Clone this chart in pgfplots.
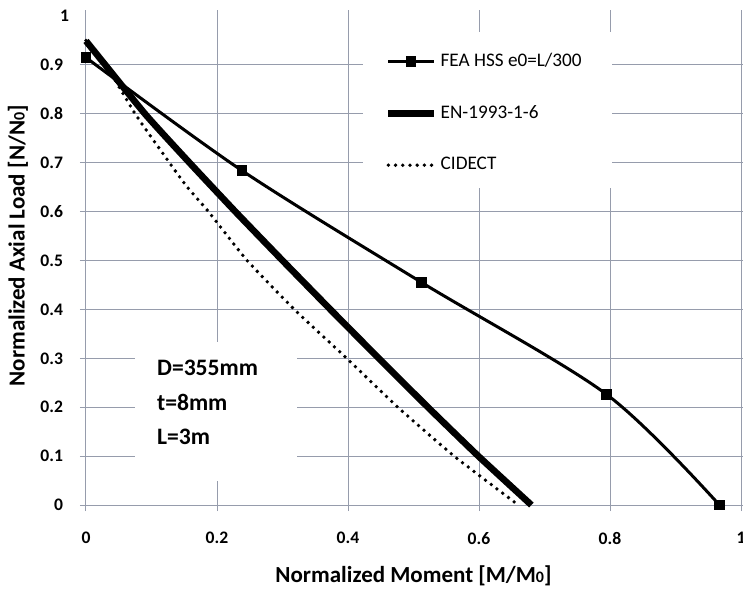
\documentclass[border=0pt]{standalone}
\usepackage{fontspec}
\setmainfont{Carlito}
\usepackage{pgfplots}
\pgfplotsset{compat=1.18}
\definecolor{gridc}{RGB}{150,156,172}
\begin{document}
\begin{tikzpicture}
\begin{axis}[
  scale only axis, width=327.5pt, height=244.5pt,
  xmin=0, xmax=1, ymin=0, ymax=1,
  axis line style={draw=none},
  xtick={0,0.2,0.4,0.6,0.8,1},
  ytick={0,0.1,0.2,0.3,0.4,0.5,0.6,0.7,0.8,0.9},
  extra y ticks={1},
  extra y tick style={grid=none, major tick length=0pt},
  grid=major, grid style={gridc, line width=0.5pt},
  tick align=outside, major tick length=3pt, tick style={gridc, line width=0.5pt},
  ticklabel style={font=\bfseries\fontsize{8.8}{10}\selectfont},
  /pgf/number format/assume math mode=true,
  /pgf/number format/fixed,
  xticklabel style={yshift=-7pt},
  yticklabel style={xshift=-5pt},
  xlabel={Normalized Moment [M/M{\fontsize{8}{9}\selectfont 0}]},
  ylabel={Normalized Axial Load [N/N{\fontsize{8}{9}\selectfont 0}]},
  label style={font=\bfseries\fontsize{11.5}{13}\selectfont},
  xlabel style={at={(axis description cs:0.5,0)}, anchor=center, yshift=-35.5pt},
  ylabel style={at={(axis description cs:0,0.53)}, anchor=center, yshift=34pt},
  clip=false,
  legend style={at={(axis cs:0.456,0.933)}, anchor=north west, draw=none, fill=none,
    inner sep=0pt, row sep=14pt, font=\fontsize{9.6}{11}\selectfont,
    /tikz/every even column/.append style={column sep=1pt}},
  legend cell align=left,
  legend image code/.code={\draw[mark repeat=2,mark phase=2,#1] plot coordinates {(0pt,0pt)(11.25pt,0pt)(22.5pt,0pt)};},
]
\fill[white] (axis cs:0.075,0.05) rectangle (axis cs:0.322,0.333);
\fill[white] (axis cs:0.423,0.648) rectangle (axis cs:0.803,0.967);

\addplot[black, line width=1.5pt, smooth, mark=square*, mark size=1.9pt, mark options={solid}]
  coordinates {(0,0.915) (0.238,0.684) (0.5125,0.455) (0.795,0.226) (0.967,0)};
\addlegendentry{FEA HSS e0=L/300}

\addplot[black, line width=3.3pt, smooth, tension=0.3]
  coordinates {(0,0.949) (0.090,0.8) (0.158,0.7) (0.228,0.6) (0.300,0.5) (0.373,0.4) (0.447,0.3) (0.522,0.2) (0.599,0.1) (0.680,0)};
\addlegendentry{EN-1993-1-6}

\addplot[black, line width=1.9pt, line cap=round, dash pattern=on 0pt off 3.6pt, smooth, tension=0.3]
  coordinates {(0,0.95) (0.035,0.89) (0.075,0.8) (0.121,0.712) (0.154,0.651) (0.187,0.6) (0.246,0.5) (0.318,0.4) (0.398,0.3) (0.476,0.2) (0.562,0.1) (0.660,0)};
\addlegendentry{CIDECT}

\node[anchor=west, inner sep=0pt, font=\bfseries\fontsize{11.8}{14}\selectfont] at (axis cs:0.108,0.280) {D=355mm};
\node[anchor=west, inner sep=0pt, font=\bfseries\fontsize{11.8}{14}\selectfont] at (axis cs:0.108,0.209) {t=8mm};
\node[anchor=west, inner sep=0pt, font=\bfseries\fontsize{11.8}{14}\selectfont] at (axis cs:0.108,0.140) {L=3m};
\end{axis}
\pgfresetboundingbox
\path ([shift={(-43pt,-42.5pt)}]current axis.south west) rectangle ([shift={(1pt,8pt)}]current axis.north east);
\end{tikzpicture}
\end{document}
